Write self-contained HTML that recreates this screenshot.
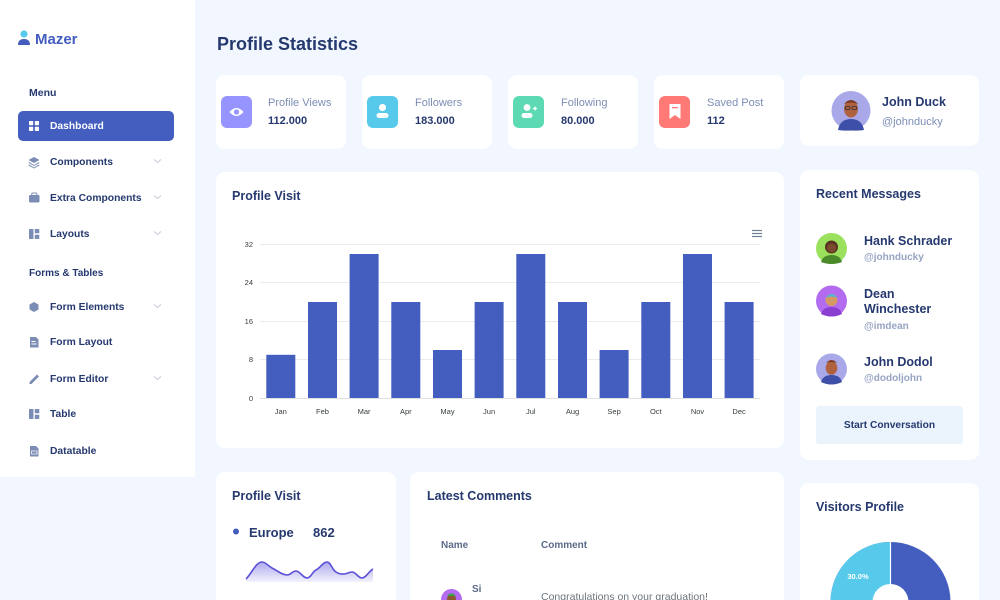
<!DOCTYPE html>
<html><head><meta charset="utf-8">
<style>
*{margin:0;padding:0;box-sizing:border-box}
html,body{width:1000px;height:600px;overflow:hidden;background:#f2f7ff;font-family:"Liberation Sans",Arial,sans-serif;position:relative}
.abs{position:absolute}
.t{position:absolute;line-height:1;white-space:nowrap;color:#25396f;margin-top:1px}
.card{position:absolute;background:#fff;border-radius:9px}
.side{position:absolute;left:0;top:0;width:195px;height:477px;background:#fff;border-bottom-right-radius:2px}
.nav{font-size:10.3px;font-weight:bold;color:#25396f}
.lbl{font-size:11px;color:#7c8db5}
.val{font-size:11px;font-weight:bold;color:#25396f}
.ttl{font-size:12.5px;font-weight:bold;color:#25396f}
.ibox{position:absolute;width:31px;height:32px;border-radius:6px}
</style></head><body>

<div class="side"></div>
<!-- logo -->
<svg class="abs" style="left:17px;top:30px" width="14" height="16" viewBox="0 0 14 16">
<circle cx="7" cy="4" r="3.6" fill="#57caeb"/>
<path d="M1 15 Q1 9 7 9 Q13 9 13 15 Z" fill="#435ebe"/>
</svg>
<div class="t" style="left:35px;top:30.5px;font-size:15px;font-weight:bold;color:#435ebe">Mazer</div>

<div class="t" style="left:29px;top:87px;font-size:10.5px;font-weight:bold;color:#25396f">Menu</div>

<div class="abs" style="left:18px;top:111px;width:156px;height:30px;background:#435ebe;border-radius:5px"></div>
<svg class="abs" style="left:29px;top:121px" width="10" height="10" viewBox="0 0 10 10" fill="#fff">
<rect x="0" y="0" width="4.2" height="4.2" rx="0.6"/><rect x="5.8" y="0" width="4.2" height="4.2" rx="0.6"/>
<rect x="0" y="5.8" width="4.2" height="4.2" rx="0.6"/><rect x="5.8" y="5.8" width="4.2" height="4.2" rx="0.6"/>
</svg>
<div class="t nav" style="left:50px;top:121px;color:#fff">Dashboard</div>

<!-- nav icons -->
<svg class="abs" style="left:0;top:0" width="195" height="477" viewBox="0 0 195 477">
<g fill="#7c8db5">
 <path d="M34 157 L39.5 160 L34 163 L28.5 160 Z"/>
 <path d="M29 162 L34 165 L39 162 L39.5 163 L34 166 L28.5 163 Z"/>
 <path d="M29 164.5 L34 167.5 L39 164.5 L39.5 165.5 L34 168.5 L28.5 165.5 Z"/>
 <rect x="29" y="195" width="10.5" height="7.5" rx="1.2"/>
 <rect x="31.8" y="193" width="5" height="2.5" rx="0.8" fill="none" stroke="#7c8db5" stroke-width="1"/>
 <rect x="29" y="229" width="4.5" height="10" rx="0.6"/>
 <rect x="34.8" y="229" width="4.5" height="4.3" rx="0.6"/>
 <rect x="34.8" y="234.7" width="4.5" height="4.3" rx="0.6"/>
 <path d="M34 302 L38.5 304.5 L38.5 309.5 L34 312 L29.5 309.5 L29.5 304.5 Z"/>
 <path d="M30 337 L36 337 L38.5 339.5 L38.5 347.5 L30 347.5 Z"/>
 <path d="M29.5 384 L29.5 382 L37 374.5 L39 376.5 L31.5 384 Z"/>
 <rect x="29" y="409" width="4.5" height="10" rx="0.6"/>
 <rect x="34.8" y="409" width="4.5" height="4.3" rx="0.6"/>
 <rect x="34.8" y="414.7" width="4.5" height="4.3" rx="0.6"/>
 <path d="M30 446 L36 446 L38.5 448.5 L38.5 456.5 L30 456.5 Z"/>
</g>
<g fill="#fff">
 <rect x="31.5" y="341" width="4" height="1" /><rect x="31.5" y="343.5" width="5" height="1"/>
 <rect x="31.5" y="451" width="5.5" height="3" fill="none" stroke="#fff" stroke-width="0.7"/>
</g>
<g fill="none" stroke="#c5cbd8" stroke-width="1">
 <path d="M154 159.5 L157.5 162.5 L161 159.5"/>
 <path d="M154 195.5 L157.5 198.5 L161 195.5"/>
 <path d="M154 231.5 L157.5 234.5 L161 231.5"/>
 <path d="M154 304.5 L157.5 307.5 L161 304.5"/>
 <path d="M154 376.5 L157.5 379.5 L161 376.5"/>
</g>
</svg>

<div class="t nav" style="left:50px;top:157px">Components</div>
<div class="t nav" style="left:50px;top:193px">Extra Components</div>
<div class="t nav" style="left:50px;top:229px">Layouts</div>
<div class="t" style="left:29px;top:268px;font-size:10px;font-weight:bold;color:#25396f">Forms &amp; Tables</div>
<div class="t nav" style="left:50px;top:302px">Form Elements</div>
<div class="t nav" style="left:50px;top:337px">Form Layout</div>
<div class="t nav" style="left:50px;top:374px">Form Editor</div>
<div class="t nav" style="left:50px;top:409px">Table</div>
<div class="t nav" style="left:50px;top:446px">Datatable</div>

<!-- heading -->
<div class="t" style="left:217px;top:34px;font-size:18px;font-weight:bold">Profile Statistics</div>

<!-- stat cards -->
<div class="card" style="left:216px;top:75px;width:130px;height:74px"></div>
<div class="card" style="left:362px;top:75px;width:130px;height:74px"></div>
<div class="card" style="left:508px;top:75px;width:130px;height:74px"></div>
<div class="card" style="left:654px;top:75px;width:130px;height:74px"></div>
<div class="card" style="left:800px;top:75px;width:179px;height:71px"></div>

<div class="ibox" style="left:221px;top:96px;background:#9694ff"></div>
<div class="ibox" style="left:367px;top:96px;background:#57caeb"></div>
<div class="ibox" style="left:513px;top:96px;background:#5ddab4"></div>
<div class="ibox" style="left:659px;top:96px;background:#ff7976"></div>
<svg class="abs" style="left:0;top:0" width="1000" height="160" viewBox="0 0 1000 160">
 <path d="M229.5 112 Q236.5 104 243.5 112 Q236.5 120 229.5 112 Z" fill="#fff"/>
 <circle cx="236.5" cy="112" r="2.6" fill="#9694ff"/>
 <circle cx="382.5" cy="107.5" r="3.6" fill="#fff"/>
 <rect x="376.5" y="113" width="12" height="5" rx="2.5" fill="#fff"/>
 <circle cx="527" cy="107.5" r="3.4" fill="#fff"/>
 <rect x="521.5" y="113" width="11" height="5" rx="2.5" fill="#fff"/>
 <path d="M533 108.5 h4 M535 106.5 v4" stroke="#fff" stroke-width="1.3"/>
 <path d="M669.5 104 h11 v15 l-5.5 -4 l-5.5 4 Z" fill="#fff"/>
 <rect x="672" y="107" width="6" height="1.3" fill="#ff7976"/>
 <circle cx="851" cy="110.5" r="19.5" fill="#a9a8e8"/>
 <path d="M838 130 Q840 119 851 119 Q862 119 864 130 Q858 131 851 130.5 Q844 131 838 130 Z" fill="#3d4fa6"/>
 <ellipse cx="851" cy="109" rx="7" ry="8.5" fill="#b0623f"/>
 <path d="M844 104 Q851 96 858 104 Q851 101 844 104Z" fill="#7a3a22"/>
 <rect x="845.5" y="106.5" width="4.5" height="3" rx="1" fill="none" stroke="#2c2c3a" stroke-width="0.8"/>
 <rect x="852" y="106.5" width="4.5" height="3" rx="1" fill="none" stroke="#2c2c3a" stroke-width="0.8"/>
</svg>

<div class="t lbl" style="left:268px;top:96.5px">Profile Views</div>
<div class="t val" style="left:268px;top:114.5px">112.000</div>
<div class="t lbl" style="left:415px;top:96.5px">Followers</div>
<div class="t val" style="left:415px;top:114.5px">183.000</div>
<div class="t lbl" style="left:561px;top:96.5px">Following</div>
<div class="t val" style="left:561px;top:114.5px">80.000</div>
<div class="t lbl" style="left:707px;top:96.5px">Saved Post</div>
<div class="t val" style="left:707px;top:114.5px">112</div>
<div class="t" style="left:882px;top:95px;font-size:12.5px;font-weight:bold">John Duck</div>
<div class="t" style="left:882px;top:115.5px;font-size:11px;color:#7c8db5">@johnducky</div>

<!-- profile visit chart card -->
<div class="card" style="left:216px;top:172px;width:568px;height:276px"></div>
<div class="t ttl" style="left:232px;top:189px">Profile Visit</div>

<!-- recent messages -->
<div class="card" style="left:800px;top:170px;width:179px;height:290px"></div>
<div class="t ttl" style="left:816px;top:187px">Recent Messages</div>
<div class="t" style="left:864px;top:234px;font-size:12.5px;font-weight:bold">Hank Schrader</div>
<div class="t" style="left:864px;top:252px;font-size:10px;color:#7c8db5;font-weight:bold;opacity:.8">@johnducky</div>
<div class="t" style="left:864px;top:287px;font-size:12.5px;font-weight:bold">Dean</div>
<div class="t" style="left:864px;top:302px;font-size:12.5px;font-weight:bold">Winchester</div>
<div class="t" style="left:864px;top:321px;font-size:10px;color:#7c8db5;font-weight:bold;opacity:.8">@imdean</div>
<div class="t" style="left:864px;top:355px;font-size:12.5px;font-weight:bold">John Dodol</div>
<div class="t" style="left:864px;top:373px;font-size:10px;color:#7c8db5;font-weight:bold;opacity:.8">@dodoljohn</div>
<div class="abs" style="left:816px;top:406px;width:147px;height:38px;background:#ebf3fd;border-radius:3px"></div>
<div class="t" style="left:816px;top:420px;width:147px;text-align:center;font-size:10.2px;font-weight:bold">Start Conversation</div>

<!-- bottom cards -->
<div class="card" style="left:216px;top:472px;width:180px;height:128px;border-bottom-left-radius:0;border-bottom-right-radius:0"></div>
<div class="t ttl" style="left:232px;top:489px">Profile Visit</div>
<div class="t" style="left:249px;top:524.5px;font-size:13px;font-weight:bold">Europe</div>
<div class="t" style="left:313px;top:524.5px;font-size:13px;font-weight:bold">862</div>

<div class="card" style="left:410px;top:472px;width:374px;height:128px;border-bottom-left-radius:0;border-bottom-right-radius:0"></div>
<div class="t ttl" style="left:427px;top:489px">Latest Comments</div>
<div class="t" style="left:441px;top:540px;font-size:10px;font-weight:bold;color:#5c6a8a">Name</div>
<div class="t" style="left:541px;top:540px;font-size:10px;font-weight:bold;color:#5c6a8a">Comment</div>
<div class="t" style="left:472px;top:584px;font-size:10px;font-weight:bold;color:#5c6a8a">Si</div>
<div class="t" style="left:541px;top:590.5px;font-size:10.5px;color:#6c757d">Congratulations on your graduation!</div>

<div class="card" style="left:800px;top:483px;width:179px;height:117px;border-bottom-left-radius:0;border-bottom-right-radius:0"></div>
<div class="t ttl" style="left:816px;top:500px">Visitors Profile</div>

<!-- overlay graphics -->
<svg class="abs" style="left:0;top:0" width="1000" height="600" viewBox="0 0 1000 600">
 <g stroke="#ebebeb" stroke-width="1">
  <line x1="260" y1="244.5" x2="760" y2="244.5"/>
  <line x1="260" y1="282.5" x2="760" y2="282.5"/>
  <line x1="260" y1="321.5" x2="760" y2="321.5"/>
  <line x1="260" y1="359.5" x2="760" y2="359.5"/>
  <line x1="260" y1="398.5" x2="760" y2="398.5" stroke="#e0e0e0"/>
 </g>
 <g font-family="Liberation Sans, Arial, sans-serif" font-size="7.5" fill="#373d3f" text-anchor="end">
  <text x="253" y="247">32</text>
  <text x="253" y="285">24</text>
  <text x="253" y="324">16</text>
  <text x="253" y="362">8</text>
  <text x="253" y="401">0</text>
 </g>
 <g fill="#435ebe">
  <rect x="266.3" y="354.8" width="29" height="43.2"/>
  <rect x="308" y="302" width="29" height="96"/>
  <rect x="349.6" y="254" width="29" height="144"/>
  <rect x="391.3" y="302" width="29" height="96"/>
  <rect x="433" y="350" width="29" height="48"/>
  <rect x="474.6" y="302" width="29" height="96"/>
  <rect x="516.3" y="254" width="29" height="144"/>
  <rect x="558" y="302" width="29" height="96"/>
  <rect x="599.6" y="350" width="29" height="48"/>
  <rect x="641.3" y="302" width="29" height="96"/>
  <rect x="683" y="254" width="29" height="144"/>
  <rect x="724.6" y="302" width="29" height="96"/>
 </g>
 <g font-family="Liberation Sans, Arial, sans-serif" font-size="7.5" fill="#373d3f" text-anchor="middle">
  <text x="280.8" y="414">Jan</text>
  <text x="322.5" y="414">Feb</text>
  <text x="364.1" y="414">Mar</text>
  <text x="405.8" y="414">Apr</text>
  <text x="447.5" y="414">May</text>
  <text x="489.1" y="414">Jun</text>
  <text x="530.8" y="414">Jul</text>
  <text x="572.5" y="414">Aug</text>
  <text x="614.1" y="414">Sep</text>
  <text x="655.8" y="414">Oct</text>
  <text x="697.5" y="414">Nov</text>
  <text x="739.1" y="414">Dec</text>
 </g>
 <g stroke="#6e8192" stroke-width="1.2">
  <line x1="752" y1="230.5" x2="762" y2="230.5"/>
  <line x1="752" y1="233.5" x2="762" y2="233.5"/>
  <line x1="752" y1="236.5" x2="762" y2="236.5"/>
 </g>

 <circle cx="831.5" cy="248.5" r="15.5" fill="#9be15d"/>
 <path d="M821 262 Q823 255 831.5 255 Q840 255 842 262 Q837 264 831.5 264 Q826 264 821 262Z" fill="#4a8a2a"/>
 <circle cx="831.5" cy="247" r="6.5" fill="#5a3320"/>
 <circle cx="831.5" cy="248" r="4.5" fill="#7b4a2c"/>

 <circle cx="831.5" cy="301" r="15.5" fill="#b36bf0"/>
 <path d="M821 314 Q823 307 831.5 307 Q840 307 842 314 Q837 316.5 831.5 316.5 Q826 316.5 821 314Z" fill="#8a3fd0"/>
 <circle cx="831.5" cy="300" r="6" fill="#d59a63"/>
 <path d="M825.5 298 Q831.5 290 837.5 298 Q831.5 295 825.5 298Z" fill="#4fb7d8"/>

 <circle cx="831.5" cy="369" r="15.5" fill="#a9a8e8"/>
 <path d="M821 382 Q823 375 831.5 375 Q840 375 842 382 Q837 384.5 831.5 384.5 Q826 384.5 821 382Z" fill="#3d4fa6"/>
 <ellipse cx="831.5" cy="368" rx="5.8" ry="6.8" fill="#b0623f"/>
 <path d="M826 363 Q831.5 357 837 363 Q831.5 361 826 363Z" fill="#7a3a22"/>

 <circle cx="236" cy="531.5" r="3" fill="#435ebe"/>
 <defs>
  <linearGradient id="sg" x1="0" y1="0" x2="0" y2="1">
   <stop offset="0" stop-color="#6c63e0" stop-opacity="0.55"/>
   <stop offset="1" stop-color="#6c63e0" stop-opacity="0.08"/>
  </linearGradient>
 </defs>
 <path d="M246 579 C252 573 256 562 262 562 C266 562 268 566 272 568 C278 571 282 575 287 575 C291 575 292 571 296 571 C300 571 303 578 307 578 C311 578 312 572 316 570 C320 568 323 562 327 562 C331 562 332 570 336 572 C339 574 341 574 344 574 C347 574 349 572 352 572 C356 572 358 578 362 578 C366 578 369 571 373 569 L373 582 L246 582 Z" fill="url(#sg)"/>
 <path d="M246 579 C252 573 256 562 262 562 C266 562 268 566 272 568 C278 571 282 575 287 575 C291 575 292 571 296 571 C300 571 303 578 307 578 C311 578 312 572 316 570 C320 568 323 562 327 562 C331 562 332 570 336 572 C339 574 341 574 344 574 C347 574 349 572 352 572 C356 572 358 578 362 578 C366 578 369 571 373 569" fill="none" stroke="#5a50d6" stroke-width="1.6"/>

 <circle cx="451.5" cy="599.5" r="10.5" fill="#b36bf0"/>
 <circle cx="451.5" cy="599" r="4.5" fill="#8a5a2c"/>
 <path d="M447 596 Q451.5 591 456 596Z" fill="#3aa04a"/>

 <circle cx="890.5" cy="602" r="60" fill="#435ebe"/>
 <path d="M890.5 602 L890.5 542 A60 60 0 0 0 833.4 620.5 Z" fill="#57caeb"/>
 <line x1="890.5" y1="542" x2="890.5" y2="602" stroke="#fff" stroke-width="1.2"/>
 <circle cx="890.5" cy="602" r="18" fill="#fff"/>
 <text x="858" y="579" font-family="Liberation Sans, Arial, sans-serif" font-size="7.5" font-weight="bold" fill="#fff" text-anchor="middle">30.0%</text>
</svg>

</body></html>
